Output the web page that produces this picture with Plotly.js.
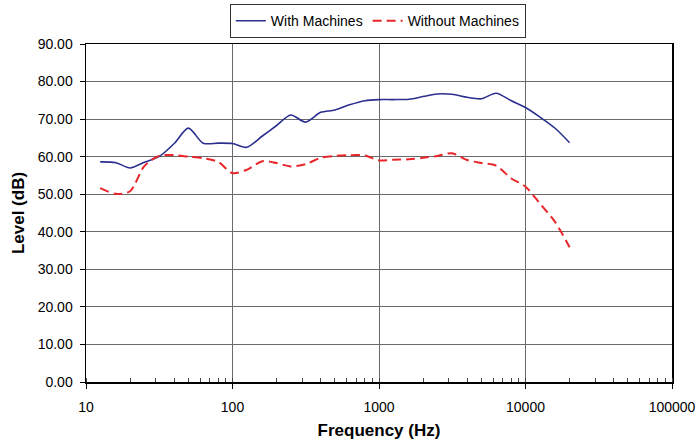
<!DOCTYPE html>
<html>
<head>
<meta charset="utf-8">
<script src="https://cdn.plot.ly/plotly-3.0.1.min.js"></script>
<style>html,body{margin:0;padding:0;background:#fff;}#chart{width:698px;height:440px;}</style>
</head>
<body>
<div id="chart"></div>
<script>
const freqs = [12.5, 16, 20, 25, 31.5, 40, 50, 63, 80, 100, 125, 160, 200, 250, 315, 400, 500, 630, 800, 1000, 1250, 1600, 2000, 2500, 3150, 4000, 5000, 6300, 8000, 10000, 12500, 16000, 20000];
const withMachines = [58.6, 58.4, 57.0, 58.5, 60.0, 63.5, 67.6, 63.6, 63.6, 63.5, 62.5, 65.5, 68.3, 71.1, 69.2, 71.8, 72.4, 73.8, 74.9, 75.2, 75.2, 75.3, 76.0, 76.7, 76.6, 75.8, 75.4, 76.9, 74.9, 73.1, 70.6, 67.5, 63.7];
const withoutMachines = [51.6, 50.1, 50.8, 57.5, 60.2, 60.4, 60.0, 59.6, 58.6, 55.6, 56.5, 58.8, 58.3, 57.4, 58.0, 59.7, 60.2, 60.4, 60.3, 59.0, 59.2, 59.3, 59.7, 60.2, 60.9, 59.1, 58.3, 57.6, 54.2, 52.0, 47.6, 42.5, 35.9];
const yTickVals = [0, 10, 20, 30, 40, 50, 60, 70, 80, 90];
const yTickText = ["0.00", "10.00", "20.00", "30.00", "40.00", "50.00", "60.00", "70.00", "80.00", "90.00"];
const xTickVals = [10, 100, 1000, 10000, 100000];
const xTickText = ["10", "100", "1000", "10000", "100000"];

const FONT = "Arial, 'Liberation Sans', sans-serif";
const traces = [
  {x: freqs, y: withMachines, name: "With Machines", type: "scatter", mode: "lines",
   line: {color: "#2b2f8f", width: 1.6, shape: "spline", smoothing: 0.8}},
  {x: freqs, y: withoutMachines, name: "Without Machines", type: "scatter", mode: "lines",
   line: {color: "#e8262a", width: 2, dash: "9px,5px", shape: "spline", smoothing: 0.8}}
];
const layout = {
  width: 698, height: 440,
  margin: {l: 86, r: 26, t: 44, b: 58, autoexpand: false},
  paper_bgcolor: "#fff", plot_bgcolor: "#fff",
  font: {family: FONT, size: 14, color: "#000"},
  showlegend: true,
  legend: {orientation: "h", x: 0.498, xanchor: "center", y: 1.118, yanchor: "top",
    bordercolor: "#333", borderwidth: 1, font: {family: FONT, size: 14}, itemwidth: 30,
    tracegroupgap: 0},
  xaxis: {type: "log", range: [1, 5], tickvals: xTickVals, ticktext: xTickText,
    showgrid: true, gridcolor: "#6a6a6a", gridwidth: 1,
    showline: true, linecolor: "#000", linewidth: 1.5, mirror: true,
    ticks: "outside", ticklen: 5, tickcolor: "#000", ticklabelstandoff: 7,
    minor: {dtick: "D1", ticks: "inside", ticklen: 4, tickcolor: "#444", showgrid: false},
    tickfont: {family: FONT, size: 14},
    zeroline: false,
    title: {text: "<b>Frequency (Hz)</b>", font: {family: FONT, size: 17}, standoff: 10}},
  yaxis: {range: [0, 90], tickvals: yTickVals, ticktext: yTickText,
    showgrid: true, gridcolor: "#6a6a6a", gridwidth: 1,
    showline: true, linecolor: "#000", linewidth: 1.5, mirror: true,
    ticks: "outside", ticklen: 5, tickcolor: "#000", ticklabelstandoff: 4,
    tickfont: {family: FONT, size: 14}, zeroline: false,
    title: {text: "<b>Level (dB)</b>", font: {family: FONT, size: 17}, standoff: 8}}
};
Plotly.newPlot("chart", traces, layout, {displayModeBar: false, staticPlot: true});
</script>
</body>
</html>
